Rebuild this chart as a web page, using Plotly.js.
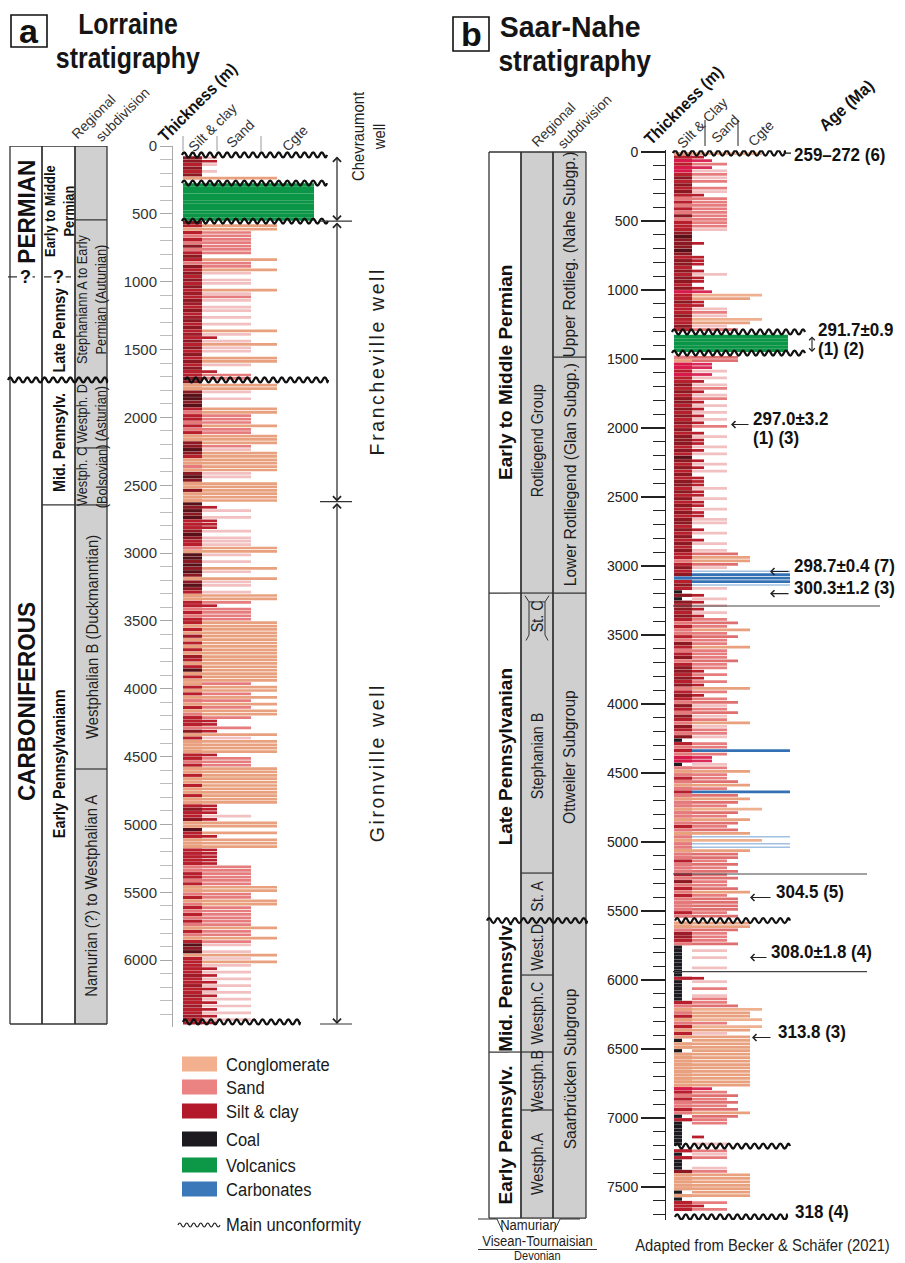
<!DOCTYPE html>
<html><head><meta charset="utf-8">
<script src="https://cdn.plot.ly/plotly-3.0.1.min.js"></script>
<style>html,body{margin:0;padding:0;background:#fff}#chart{width:905px;height:1263px}</style>
</head><body><div id="chart"></div>
<script>
// ================= DATA =================
const BIN = 25; // metres per log interval (each string block = 500 m)

// Lorraine (a): shade of the fine-grained column, and grain-size extension, per 25 m
const lorraineBase = [
 "...ddmdmdc.vvvvvvvvv","vvdmcmsmsdsmdmsdmdmd","mdmnmdnmdmndmdmnmdmd","mdmdmdmmddccdxxdxmsm",
 "msmsmccddxdmccscdxdc","cdcccxdxdxmmmdxdmmsc","xxdxdxdcdxdmccmmsmsm","mcmcncmcmcnmcmxcmccm",
 "cmcscmcsmmmsdcmccccm","msmccmccmccmccmdmmdc","cxmmcccmmmmmssmmsmcc","smcsmsmsmscmscmxdxcm",
 "mmmmnmmnmmnmmnmmnmm."];
const lorraineExt = [
 "...qMq.q.c.vvvvvvvvv","vv.ccsssssss.csscp.p","p.cpsp.pp.p.p.cpMpcp","p.ccp.Mss.ccp.p..ccs",
 "sscsscccspccccccpp.c","ccccc.Mp.pMMMp.pppcc","p.p.cp.cpp.pccsMssss","ccccccccccccccccccsc",
 "cscscsccsMMsMcpccccM","ssscccccccccccMMMpMc","c.cMcccMMMMMsssssscc","ssccsssssscsscsp.pcp",
 "cpMpMpMpMpMpMpMpMpM."];

// Saar-Nahe (b)
const saarBase = [
 "cmrmrrmdmdmdmsmsmsds","mmmdxdddxdmddmdmddmd","rmmdmmmdmmdm.vvvvv.s","crrmrmmdmdmddmdmdmdm",
 "dmdddmdmxdmdmdmddmdm","dmdmdmddmdmdmdmdmmsm","dmdbmdmkdkdmdmdmsmss","msdmsmdsmddmdmdsmdms",
 "dmsdmsdmsdkmsmsrrksc","smscsmscsscsscsmscsc","sscssmsssmsdsmsmssss","ms.ccsnnmskkkkkkkkkm",
 "kkkkkkmscsmcsmcmckcc","kccccccccccrmsmssmsk","mkkkkkkk.mkmkkkdcccc","ckckmmm"];
const saarExt = [
 "CMRsRpsps.spMsssssss","ssp...M...MMM.MpMM.M","RCcMMpspCcpS.vvvvv.S","SRRpRpMpsMpsMpMpMpMs",
 ".MpMMpMp.MpMp.MMMpMM","pMMpMMpp.Mp.Mp.pSccS","pBbbbBp.MpMpMpMsSscs","SsscsssSssMsMsMcsMsS",
 "psSpscpssp.ssbsRRpsc","ssScsbScSsCSscSsScBC","BBcSSsSsSsSssScsSSSS","sS.ccSsssS.p.p..p..M",
 "p.s.pssSCccCsCcpcccc","cccccccccccRsSsSsScS","ss...M.p.sps..pscccc","ccc.sMs"];

// Stratigraphic units (depth of unit tops, m)
const lorPeriodTops = [0, 965, 1724];
const lorPeriodNames = ["PERMIAN", "", "CARBONIFEROUS"];
const lorEpochTops = [0, 965, 1724, 2645];
const lorEpochNames = ["Early to Middle<br>Permian", "Late Pennsy.", "Mid. Pennsylv.", "Early Pennsylvaniann"];
const lorRegionTops = [0, 545, 1724, 2225, 2645, 4591];
const lorRegionNames = ["", "Stephaniann A to Early<br>Permian (Autunian)", "Westph. D<br>(Asturian)", "Westph. C<br>(Bolsovian)", "Westphalian B (Duckmanntian)", "Namurian (?) to Westphalian A"];
const lorColumnBase = 6470;
const lorUnconformities = [66, 273, 553, 1724, 6455];
const lorUncertain = [965];
const lorWells = ["Chevraumont<br>well", "Francheville well", "Gironville well"];
const lorWellTop = [66, 553, 2620];
const lorWellBase = [553, 2620, 6470];

const saarEpochTops = [0, 3196, 5570, 6522];
const saarEpochNames = ["Early to Middle Permian", "Late Pennsylvanian", "Mid. Pennsylv.", "Early Pennsylv."];
const saarStageTops = [0, 3196, 3536, 5225, 5570, 5964, 6522, 6942];
const saarStageNames = ["Rotliegend Group", "St. C", "Stephanian B", "St. A", "West.D", "Westph.C", "Westph.B", "Westph.A"];
const saarGroupTops = [0, 1486, 3196, 5570];
const saarGroupNames = ["Upper Rotlieg. (Nahe Subgp.)", "Lower Rotliegend (Glan Subgp.)", "Ottweiler Subgroup", "Saarbrücken Subgroup"];
const saarColumnBase = 7725;
const saarUnconformities = [8, 1304, 1457, 5570, 7203, 7717];
const saarAgeText = ["259–272 (6)", "291.7±0.9", "297.0±3.2", "298.7±0.4 (7)", "300.3±1.2 (3)", "304.5 (5)", "308.0±1.8 (4)", "313.8 (3)", "318 (4)"];
const saarAgeSub = ["", "(1) (2)", "(1) (3)", "", "", "", "", "", ""];
const saarAgeDepth = [22, 1290, 1935, 3000, 3160, 5362, 5797, 6377, 7681];
const saarMarkerLines = [3290, 5232, 5940];

const legendNames = ["Conglomerate", "Sand", "Silt & clay", "Coal", "Volcanics", "Carbonates"];

// ================= STYLE / LAYOUT =================
const SANS = "'Liberation Sans',Arial,Helvetica,sans-serif";
const W = 905, H = 1263;
const PX = x => x / W, PY = y => 1 - y / H;

const BASE_COL = {d:'#8c1822', x:'#561119', m:'#b71f2d', n:'#9e1b28', r:'#d8194a', s:'#e47a7b', c:'#e9a07e', k:'#1d1b20', v:'#0b9546', b:'#3470b4'};
const EXT_COL = {M:'#b71f2d', R:'#d92a58', q:'#f2c0c1', p:'#f2c0c1', s:'#e67c7d', S:'#df6e6f', c:'#e9a07e', C:'#efb08f', v:'#0b9546', b:'#3470b4', B:'#a2c0e2'};
const LEGEND_COL = ['#f3b08e', '#ec8383', '#b3192b', '#1c1a1f', '#0c9847', '#3a78ba'];

const cfgA = {xa:'x', ya:'y', left:183, silt:202, baseEnd:{}, ext:{M:217,q:217,R:217,p:251,s:251,S:251,c:277,C:277,v:314,b:300,B:300}};
const cfgB = {xa:'x2', ya:'y2', left:674, silt:692, baseEnd:{k:682}, ext:{M:704,q:704,R:712,p:727,s:727,S:738,c:750,C:762,v:788,b:790,B:790}};

const traces = [], shapes = [], ann = [], annStyle = [];
function addAnn(a, st) { ann.push(a); annStyle.push(st || null); }

function addLog(baseBlocks, extBlocks, cfg) {
  const groups = {}; const order = [];
  function push(key, color, d, x0, x1, w) {
    if (!groups[key]) { groups[key] = {color, y:[], x:[], base:[], width:[]}; order.push(key); }
    const g = groups[key]; g.y.push(d); g.x.push(x1 - x0); g.base.push(x0); g.width.push(w);
  }
  baseBlocks.forEach((blk, k) => {
    for (let j = 0; j < blk.length && j < 20; j++) {
      const ch = blk[j]; if (ch === '.' || !BASE_COL[ch]) continue;
      push('b' + ch, BASE_COL[ch], k * 500 + (j + 0.5) * BIN, cfg.left, cfg.baseEnd[ch] || cfg.silt, BIN * (ch === 'v' ? 1 : 0.94));
    }
  });
  extBlocks.forEach((blk, k) => {
    for (let j = 0; j < blk.length && j < 20; j++) {
      const ch = blk[j]; if (ch === '.' || !EXT_COL[ch]) continue;
      const r = ch === 'v' ? 1 : ch === 'B' ? 0.45 : 0.8;
      push('e' + ch, EXT_COL[ch], k * 500 + (j + 0.5) * BIN, cfg.silt, cfg.ext[ch], BIN * r);
    }
  });
  order.forEach(key => {
    const g = groups[key];
    traces.push({type:'bar', orientation:'h', xaxis:cfg.xa, yaxis:cfg.ya, y:g.y, x:g.x, base:g.base, width:g.width,
      marker:{color:g.color, line:{width:0}}, hoverinfo:'skip', showlegend:false});
  });
}
addLog(lorraineBase, lorraineExt, cfgA);
addLog(saarBase, saarExt, cfgB);

function wavePath(x0, x1, d, amp, period) {
  let p = `M${x0},${d}`, x = x0, up = true;
  while (x < x1 - 0.01) {
    const xn = Math.min(x + period / 2, x1);
    p += ` Q${(x + xn) / 2},${d + (up ? -2 * amp : 2 * amp)} ${xn},${d}`;
    x = xn; up = !up;
  }
  return p;
}
function wave(xa, ya, x0, x1, d, amp, lw) {
  shapes.push({type:'path', xref:xa, yref:ya, path:wavePath(x0, x1, d, amp, 8.6), line:{color:'#111', width:lw || 2.3}, layer:'above'});
}
function hline(xa, ya, x0, x1, d, color, w, dash) {
  shapes.push({type:'line', xref:xa, yref:ya, x0, x1, y0:d, y1:d, line:{color:color || '#333', width:w || 1.2, dash:dash || 'solid'}, layer:'above'});
}

function drawColumns(cols, xa, ya, bottom, unconf, uncertain, noLine) {
  cols.forEach(col => {
    shapes.push({type:'rect', xref:xa, yref:ya, x0:col.x0, x1:col.x1, y0:col.tops[0], y1:bottom, fillcolor:col.fill, line:{width:0}, layer:'below'});
    col.tops.forEach((t, i) => {
      const b = i + 1 < col.tops.length ? col.tops[i + 1] : bottom;
      const nm = col.names[i];
      if (nm) {
        const two = nm.includes('<br>');
        const f = Object.assign({}, col.font, two && col.font2 ? {size:col.font2} : {});
        addAnn({xref:xa, yref:ya, x:(col.x0 + col.x1) / 2 + 0.5, y:(col.at && col.at[i] != null) ? col.at[i] : (t + b) / 2,
          text:nm, textangle:-90, showarrow:false, font:f, align:'center', xanchor:'center', yanchor:'middle'}, {sx:two && col.sx2 ? col.sx2 : col.sx});
      }
      if (i > 0 && !unconf.includes(t) && !uncertain.includes(t) && !noLine.includes(t)) hline(xa, ya, col.x0, col.x1, t, '#333', 1.2);
    });
    hline(xa, ya, col.x0, col.x1, col.tops[0], '#333', 1.3);
    hline(xa, ya, col.x0, col.x1, bottom, '#333', 1.3);
    [col.x0, col.x1].forEach(x => shapes.push({type:'line', xref:xa, yref:ya, x0:x, x1:x, y0:col.tops[0], y1:bottom, line:{color:'#333', width:1.3}, layer:'above'}));
  });
}

const fB = (s, c) => ({family:SANS, size:s, color:c || '#111', weight:'bold'});
const fR = (s, c) => ({family:SANS, size:s, color:c || '#1e1e1e'});

// ---------- Panel a columns ----------
drawColumns([
  {x0:10, x1:42, fill:'#ffffff', tops:lorPeriodTops, names:lorPeriodNames, font:fB(24), sx:0.94},
  {x0:42, x1:75, fill:'#ffffff', tops:lorEpochTops, names:lorEpochNames, font:fB(16), sx:0.9, font2:15, sx2:0.86},
  {x0:75, x1:107, fill:'#d0d0d0', tops:lorRegionTops, names:lorRegionNames, font:fR(16.5), sx:0.9, font2:15, sx2:0.85}
], 'x', 'y', lorColumnBase, lorUnconformities, lorUncertain, []);
lorUncertain.forEach(d => {
  hline('x', 'y', 8, 75, d, '#333', 1.2, 'dash');
  [25, 58].forEach(x => addAnn({xref:'x', yref:'y', x, y:d, text:'?', showarrow:false, bgcolor:'#fff', font:fB(18), xanchor:'center', yanchor:'middle'}));
});
const lorLogWaveX = [[182,327],[182,327],[182,328],[185,328],[183,300]];
lorUnconformities.forEach((d, i) => {
  if (lorPeriodTops.includes(d)) wave('x', 'y', 8, 107, d, 18);
  wave('x', 'y', lorLogWaveX[i][0], lorLogWaveX[i][1], d, 18);
});
lorWells.forEach((w, i) => {
  addAnn({xref:'x', yref:'y', x:337, y:lorWellBase[i], ax:337, ay:lorWellTop[i], axref:'x', ayref:'y', text:'', showarrow:true,
    arrowhead:4, startarrowhead:4, arrowside:'end+start', arrowsize:1.3, arrowwidth:1.2, arrowcolor:'#222'});
  hline('x', 'y', 320, 352, lorWellBase[i], '#333', 1.2);
  if (i === 0) addAnn({xref:'x', yref:'paper', x:368, y:PY(137), text:w, textangle:-90, showarrow:false, font:fR(16.5), xanchor:'center', yanchor:'middle'}, {sx:0.9});
  else addAnn({xref:'x', yref:'y', x:377, y:(lorWellTop[i] + lorWellBase[i]) / 2, text:w, textangle:-90, showarrow:false, font:fR(19.5), xanchor:'center', yanchor:'middle'}, {sx:1, ls:2.6});
});

// ---------- Panel b columns ----------
drawColumns([
  {x0:489, x1:521, fill:'#ffffff', tops:saarEpochTops, names:saarEpochNames, font:fB(19), sx:1},
  {x0:521, x1:553, fill:'#cfcfcf', tops:saarStageTops, names:saarStageNames, font:fR(16), sx:0.9, at:[2094]},
  {x0:553, x1:586, fill:'#cfcfcf', tops:saarGroupTops, names:saarGroupNames, font:fR(17), sx:0.92}
], 'x2', 'y2', saarColumnBase, saarUnconformities, [], [3536]);
shapes.push({type:'path', xref:'x2', yref:'y2', path:'M525,3215 L529,3260 L529,3500 L526,3540 M549,3215 L545,3260 L545,3500 L548,3540 M529,3260 L545,3260', line:{color:'#333', width:1}, layer:'above'});
const saarLogWaveX = [[673,785],[672,805],[672,805],[675,790],[675,790],[675,787]];
saarUnconformities.forEach((d, i) => {
  if (saarEpochTops.includes(d)) wave('x2', 'y2', 487, 587, d, 18);
  wave('x2', 'y2', saarLogWaveX[i][0], saarLogWaveX[i][1], d, 18);
});
hline('x2', 'y2', 785, 791, saarUnconformities[0], '#111', 1.3);
const saarMarkerEnd = [880, 867, 867];
saarMarkerLines.forEach((d, i) => hline('x2', 'y2', 673, saarMarkerEnd[i], d, '#444', 1.2));

// ages
const ageTextX = [792, 816, 751, 792, 792, 774, 769, 776, 793];
const ageArrow = [null, 'double', [731, 750], [770, 790], [770, 790], [750, 772], [750, 768], [752, 772], null];
const fAge = fB(17.5);
saarAgeText.forEach((t, i) => {
  addAnn({xref:'x2', yref:'y2', x:ageTextX[i], y:saarAgeDepth[i], text:t, showarrow:false, xanchor:'left', yanchor:'middle', font:fAge}, {sx:0.97, origin:'left center'});
  if (saarAgeSub[i]) addAnn({xref:'x2', yref:'y2', x:ageTextX[i], y:saarAgeDepth[i], yshift:-19, text:saarAgeSub[i], showarrow:false, xanchor:'left', yanchor:'middle', font:fAge}, {sx:0.97, origin:'left center'});
  const a = ageArrow[i];
  if (a === 'double') addAnn({xref:'x2', yref:'y2', x:812, y:1449, ax:812, ay:1326, axref:'x2', ayref:'y2', text:'', showarrow:true,
      arrowhead:4, startarrowhead:4, arrowside:'end+start', arrowsize:1, arrowwidth:1.1, arrowcolor:'#222'});
  else if (a) addAnn({xref:'x2', yref:'y2', x:a[0], y:saarAgeDepth[i] + 40, ax:a[1], ay:saarAgeDepth[i] + 40, axref:'x2', ayref:'y2', text:'', showarrow:true,
      arrowhead:4, arrowsize:1.2, arrowwidth:1.1, arrowcolor:'#222'});
});

// ---------- headers (paper) ----------
function pAnn(x, y, text, font, angle, extra, st) {
  addAnn(Object.assign({xref:'paper', yref:'paper', x:PX(x), y:PY(y), text, showarrow:false, font, textangle:angle || 0, xanchor:'center', yanchor:'middle'}, extra || {}), st);
}
function pRect(x0, y0, x1, y1, fill, lc, lw) {
  shapes.push({type:'rect', xref:'paper', yref:'paper', x0:PX(x0), x1:PX(x1), y0:PY(y1), y1:PY(y0), fillcolor:fill || 'rgba(0,0,0,0)', line:{color:lc || '#111', width:lw == null ? 1.6 : lw}});
}
function pLine(x0, y0, x1, y1, c, w) {
  shapes.push({type:'line', xref:'paper', yref:'paper', x0:PX(x0), x1:PX(x1), y0:PY(y0), y1:PY(y1), line:{color:c || '#333', width:w || 1}});
}
pRect(11, 15, 47, 47); pAnn(29, 31, 'a', fB(34));
pAnn(128, 24, 'Lorraine', fB(29, '#151515'), 0, null, {sx:0.86});
pAnn(128, 58, 'stratigraphy', fB(29, '#151515'), 0, null, {sx:0.86});
pRect(453, 17, 489, 51); pAnn(471, 34, 'b', fB(34));
pAnn(570, 27, 'Saar-Nahe', fB(30, '#151515'), 0, null, {sx:0.95});
pAnn(575, 61, 'stratigraphy', fB(30, '#151515'), 0, null, {sx:0.88});

const fHead = fR(14, '#333');
const fThick = fB(17);
pAnn(93, 117, 'Regional', fHead, -45);
pAnn(122, 115, 'subdivision', fHead, -45);
pAnn(198, 103, 'Thickness (m)', fThick, -45, null, {sx:0.9});
pAnn(212, 128, 'Silt & clay', fHead, -45);
pAnn(240, 134, 'Sand', fHead, -45);
pAnn(295, 138, 'Cgte', fHead, -45);
[183, 217, 261].forEach(x => pLine(x, 136, x, 151, '#999', 1));

pAnn(553, 125, 'Regional', fHead, -45);
pAnn(584, 122, 'subdivision', fHead, -45);
pAnn(684, 106, 'Thickness (m)', fThick, -45, null, {sx:0.9});
pAnn(702, 123, 'Silt & Clay', fHead, -45);
pAnn(725, 129, 'Sand', fHead, -45);
pAnn(761, 133, 'Cgte', fHead, -45);
pAnn(847, 106, 'Age (Ma)', fB(17), -42, null, {sx:0.93});
[705, 738].forEach(x => pLine(x, 120, x, 146, '#222', 1));

// Namurian bracket / base labels
shapes.push({type:'path', xref:'paper', yref:'paper',
  path:`M${PX(478)},${PY(1219)} L${PX(497)},${PY(1219)} L${PX(503)},${PY(1232)} M${PX(554)},${PY(1232)} L${PX(560)},${PY(1219)} L${PX(580)},${PY(1219)}`,
  line:{color:'#333', width:1}});
pAnn(528, 1224.5, 'Namurian', fR(14.5), 0, null, {sx:0.9});
pAnn(537, 1240.5, 'Visean-Tournaisian', fR(14.5), 0, null, {sx:0.9});
pLine(478, 1249.5, 597, 1249.5, '#333', 1);
pAnn(537, 1255.5, 'Devonian', fR(12), 0, null, {sx:0.92});
pAnn(762, 1245, 'Adapted from Becker & Schäfer (2021)', fR(17), 0, null, {sx:0.87});

// legend
const legY = [1064, 1087, 1111, 1139, 1165, 1189];
legendNames.forEach((n, i) => {
  pRect(182, legY[i] - 7.5, 217, legY[i] + 7.5, LEGEND_COL[i], LEGEND_COL[i], 0);
  pAnn(224, legY[i], n, fR(19, '#1a1a1a'), 0, {xanchor:'left'}, {sx:0.87, origin:'left center'});
});
shapes.push({type:'path', xref:'paper', yref:'paper', path:(() => {
  let p = `M${PX(178)},${PY(1225)}`, x = 178, up = true;
  while (x < 219.9) { const xn = Math.min(x + 3.5, 220); p += ` Q${PX((x + xn) / 2)},${PY(1225 + (up ? -4 : 4))} ${PX(xn)},${PY(1225)}`; x = xn; up = !up; }
  return p; })(), line:{color:'#222', width:1.2}});
pAnn(224, 1224, 'Main unconformity', fR(19, '#1a1a1a'), 0, {xanchor:'left'}, {sx:0.87, origin:'left center'});

// ================= LAYOUT =================
const A_PX = 0.1357, A_TOP = 146, A_MAX = 6490;
const B_PX = 0.138, B_TOP = 152, B_MAX = 7740, B_MIN = -12;
const layout = {
  width:W, height:H, margin:{l:0, r:0, t:0, b:0}, paper_bgcolor:'#fff', plot_bgcolor:'rgba(0,0,0,0)',
  barmode:'overlay', hovermode:false, showlegend:false, dragmode:false, font:{family:SANS, color:'#222'},
  xaxis:{domain:[0, 0.5], range:[0, 452.5], visible:false, fixedrange:true},
  yaxis:{domain:[PY(A_TOP + A_MAX * A_PX), PY(A_TOP)], range:[A_MAX, 0], anchor:'free', position:PX(172), side:'left',
    showgrid:false, zeroline:false, showline:true, linecolor:'#a8a8a8', linewidth:1, ticks:'outside', ticklen:12, tickcolor:'#a8a8a8', tickwidth:1,
    tick0:0, dtick:500, tickfont:{family:SANS, size:15, color:'#333'}, fixedrange:true,
    minor:{dtick:100, tick0:0, ticks:'outside', ticklen:12, tickcolor:'#bdbdbd', tickwidth:1, showgrid:false}},
  xaxis2:{domain:[0.5, 1], range:[452.5, 905], visible:false, anchor:'y2', fixedrange:true},
  yaxis2:{domain:[PY(B_TOP + B_MAX * B_PX), PY(B_TOP + B_MIN * B_PX)], range:[B_MAX, B_MIN], anchor:'free', position:PX(665), side:'left',
    showgrid:false, zeroline:false, showline:true, linecolor:'#222', linewidth:1.2, ticks:'outside', ticklen:24, tickcolor:'#222', tickwidth:1.2,
    tick0:0, dtick:500, tickfont:{family:SANS, size:14, color:'#222'}, fixedrange:true,
    minor:{dtick:100, tick0:0, ticks:'outside', ticklen:12, tickcolor:'#222', tickwidth:1, showgrid:false}},
  shapes, annotations:ann
};

// narrow (condensed-looking) text: horizontal scaling and tracking of annotation texts
function condense(gd) {
  gd.querySelectorAll('g.annotation').forEach(g => {
    const st = annStyle[+g.getAttribute('data-index')];
    if (!st) return;
    const t = g.querySelector('text.annotation-text');
    if (!t) return;
    t.style.transformBox = 'fill-box';
    t.style.transformOrigin = st.origin || 'center';
    if (st.sx && st.sx !== 1) t.style.transform = `scaleX(${st.sx})`;
    if (st.ls) t.style.letterSpacing = st.ls + 'px';
  });
}
Plotly.newPlot('chart', traces, layout, {staticPlot:true, displayModeBar:false}).then(condense);
</script></body></html>
